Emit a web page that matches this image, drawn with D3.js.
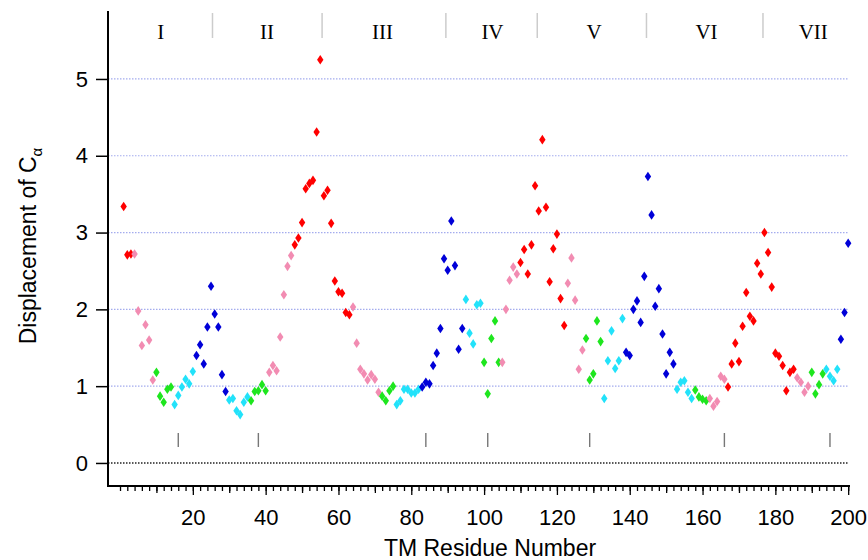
<!DOCTYPE html>
<html>
<head>
<meta charset="utf-8">
<script src="https://cdn.jsdelivr.net/npm/d3@7"></script>
<style>
  body { margin: 0; background: #fff; }
  svg { display: block; }
  .tick text { font-family: "Liberation Sans Narrow", "Arial Narrow", "Liberation Sans", sans-serif; font-size: 22px; fill: #000; }
</style>
</head>
<body>
<script>
// displacement of C-alpha per TM residue (1..200)
const displacement = [
  3.34, 2.71, 2.72, 2.72, 1.98, 1.53, 1.80, 1.60, 1.08, 1.18,
  0.87, 0.79, 0.96, 0.99, 0.76, 0.88, 0.99, 1.09, 1.03, 1.19,
  1.40, 1.54, 1.29, 1.77, 2.30, 1.94, 1.77, 1.15, 0.93, 0.82,
  0.84, 0.68, 0.63, 0.79, 0.86, 0.81, 0.93, 0.94, 1.02, 0.94,
  1.18, 1.27, 1.20, 1.64, 2.19, 2.56, 2.70, 2.84, 2.93, 3.13,
  3.57, 3.64, 3.68, 4.31, 5.25, 3.48, 3.55, 3.12, 2.37, 2.23,
  2.21, 1.96, 1.93, 2.03, 1.56, 1.22, 1.16, 1.08, 1.15, 1.09,
  0.92, 0.87, 0.81, 0.94, 1.00, 0.76, 0.81, 0.96, 0.96, 0.91,
  0.91, 0.96, 0.99, 1.05, 1.03, 1.27, 1.43, 1.75, 2.66, 2.51,
  3.15, 2.57, 1.48, 1.75, 2.13, 1.69, 1.55, 2.06, 2.08, 1.31,
  0.90, 1.62, 1.85, 1.31, 1.31, 2.00, 2.38, 2.55, 2.46, 2.61,
  2.78, 2.46, 2.84, 3.61, 3.28, 4.21, 3.33, 2.36, 2.79, 2.98,
  2.14, 1.79, 2.34, 2.67, 2.12, 1.22, 1.47, 1.62, 1.08, 1.16,
  1.85, 1.58, 0.84, 1.33, 1.72, 1.23, 1.33, 1.88, 1.44, 1.40,
  2.00, 2.11, 1.83, 2.43, 3.73, 3.23, 2.04, 2.27, 1.68, 1.16,
  1.44, 1.29, 0.96, 1.05, 1.07, 0.92, 0.84, 0.95, 0.86, 0.83,
  0.81, 0.84, 0.74, 0.80, 1.13, 1.09, 0.99, 1.29, 1.56, 1.32,
  1.78, 2.22, 1.91, 1.85, 2.60, 2.46, 3.00, 2.74, 2.29, 1.43,
  1.39, 1.27, 0.94, 1.18, 1.22, 1.11, 1.05, 0.92, 1.00, 1.18,
  0.90, 1.02, 1.16, 1.22, 1.13, 1.07, 1.22, 1.61, 1.96, 2.86
];

// colour class of consecutive residues (run length encoded)
const runClasses = [
  "red", "pink", "green", "cyan", "blue", "cyan", "green", "pink", "red", "pink",
  "green", "cyan", "blue", "cyan", "green", "pink", "red", "pink", "green", "cyan",
  "blue", "cyan", "green", "pink", "red", "pink", "green", "cyan", "blue"
];
const runLengths = [
  3, 6, 5, 6, 9, 6, 5, 7, 16, 8,
  4, 7, 12, 5, 5, 5, 13, 5, 5, 6,
  14, 5, 4, 5, 19, 4, 4, 4, 3
];

const xTickLabels = [20, 40, 60, 80, 100, 120, 140, 160, 180, 200];
const yTickLabels = [0, 1, 2, 3, 4, 5];
const gridValues = [1, 2, 3, 4, 5];

const helixNames = ["I", "II", "III", "IV", "V", "VI", "VII"];
const helixCenters = [11.2, 40.4, 72.1, 102.3, 130.2, 161.1, 190.4];
const helixBreaks = [25.4, 55.5, 89.5, 114.6, 144.6, 176.6];
const markResidues = [16, 38, 84, 101, 129, 166, 195];

const classColor = {
  red: "#ff0000",
  pink: "#f28cb2",
  green: "#1ee61e",
  cyan: "#22e2fa",
  blue: "#0000d8"
};

// expand runs to one class per residue
let residueClass = [];
runClasses.forEach((c, i) => {
  for (let k = 0; k < runLengths[i]; k++) residueClass.push(c);
});

let points = displacement.map((v, i) => ({ residue: i + 1, value: v, cls: residueClass[i] }));

let width = 868, height = 560;
let plotLeft = 108, plotRight = 850, plotTop = 11, plotBottom = 486;

let x = d3.scaleLinear().domain([-3.3, 200.5]).range([plotLeft, plotRight]);
let y = d3.scaleLinear().domain([-0.3, 5.885]).range([plotBottom, plotTop]);

let svg = d3.select("body")
  .append("svg")
  .attr("width", width)
  .attr("height", height);

// grid lines
svg.append("g")
  .selectAll("line")
  .data(gridValues)
  .enter()
  .append("line")
  .attr("x1", plotLeft)
  .attr("x2", x(200))
  .attr("y1", d => y(d))
  .attr("y2", d => y(d))
  .attr("stroke", "#a4acee")
  .attr("stroke-width", 1.2)
  .attr("stroke-dasharray", "1.5,1.5");

// zero line
svg.append("line")
  .attr("x1", plotLeft)
  .attr("x2", x(200))
  .attr("y1", y(0))
  .attr("y2", y(0))
  .attr("stroke", "#222")
  .attr("stroke-width", 1.5)
  .attr("stroke-dasharray", "1.5,1.5");

// helix separators and names
svg.append("g")
  .selectAll("line")
  .data(helixBreaks)
  .enter()
  .append("line")
  .attr("x1", d => x(d))
  .attr("x2", d => x(d))
  .attr("y1", 13)
  .attr("y2", 38)
  .attr("stroke", "#cccccc")
  .attr("stroke-width", 1.5);

svg.append("g")
  .selectAll("text")
  .data(helixNames)
  .enter()
  .append("text")
  .attr("x", (d, i) => x(helixCenters[i]))
  .attr("y", 39)
  .attr("text-anchor", "middle")
  .style("font-family", "'Liberation Serif', 'Times New Roman', serif")
  .style("font-size", "21px")
  .text(d => d);

// small residue marks
svg.append("g")
  .selectAll("line")
  .data(markResidues)
  .enter()
  .append("line")
  .attr("x1", d => x(d))
  .attr("x2", d => x(d))
  .attr("y1", 433)
  .attr("y2", 447)
  .attr("stroke", "#777")
  .attr("stroke-width", 1.4);

// points
let diamond = "M0,-4.8L3.2,0L0,4.8L-3.2,0Z";
svg.append("g")
  .selectAll("path")
  .data(points)
  .enter()
  .append("path")
  .attr("d", diamond)
  .attr("transform", d => "translate(" + x(d.residue) + "," + y(d.value) + ")")
  .attr("fill", d => classColor[d.cls]);

// x axis: minor ticks every 2, medium every 10, labelled every 20
let xAxisG = svg.append("g").attr("transform", "translate(0," + plotBottom + ")");
xAxisG.append("g")
  .call(d3.axisBottom(x).tickValues(d3.range(0, 201, 2)).tickSize(5).tickSizeOuter(0).tickFormat(""))
  .call(g => g.select(".domain").remove());
xAxisG.append("g")
  .call(d3.axisBottom(x).tickValues(d3.range(10, 201, 20)).tickSize(7).tickSizeOuter(0).tickFormat(""))
  .call(g => g.select(".domain").remove());
xAxisG.append("g")
  .call(d3.axisBottom(x).tickValues(xTickLabels).tickSize(9).tickSizeOuter(0).tickPadding(14))
  .call(g => g.select(".domain").remove());
xAxisG.selectAll(".tick line").attr("stroke", "#000").attr("stroke-width", 1.3);

// y axis
svg.append("g")
  .attr("transform", "translate(" + plotLeft + ",0)")
  .call(d3.axisLeft(y).tickValues(yTickLabels).tickSize(12).tickSizeOuter(0).tickPadding(8).tickFormat(d3.format("d")))
  .call(g => g.select(".domain").remove())
  .call(g => g.selectAll(".tick line").attr("stroke", "#000").attr("stroke-width", 1.5));

// axis spines
svg.append("line")
  .attr("x1", plotLeft).attr("x2", plotLeft)
  .attr("y1", plotTop).attr("y2", plotBottom + 1)
  .attr("stroke", "#000").attr("stroke-width", 2);
svg.append("line")
  .attr("x1", plotLeft).attr("x2", plotRight)
  .attr("y1", plotBottom).attr("y2", plotBottom)
  .attr("stroke", "#000").attr("stroke-width", 2);

// axis titles
svg.append("text")
  .attr("x", 490)
  .attr("y", 556)
  .attr("text-anchor", "middle")
  .style("font-family", "'Liberation Sans', Arial, sans-serif")
  .style("font-size", "23px")
  .text("TM Residue Number");

let yTitle = svg.append("text")
  .attr("transform", "translate(36,246) rotate(-90)")
  .attr("text-anchor", "middle")
  .style("font-family", "'Liberation Sans', Arial, sans-serif")
  .style("font-size", "23px");
yTitle.append("tspan").text("Displacement of C");
yTitle.append("tspan").attr("dy", 6).style("font-size", "15px").text("α");
</script>
</body>
</html>
